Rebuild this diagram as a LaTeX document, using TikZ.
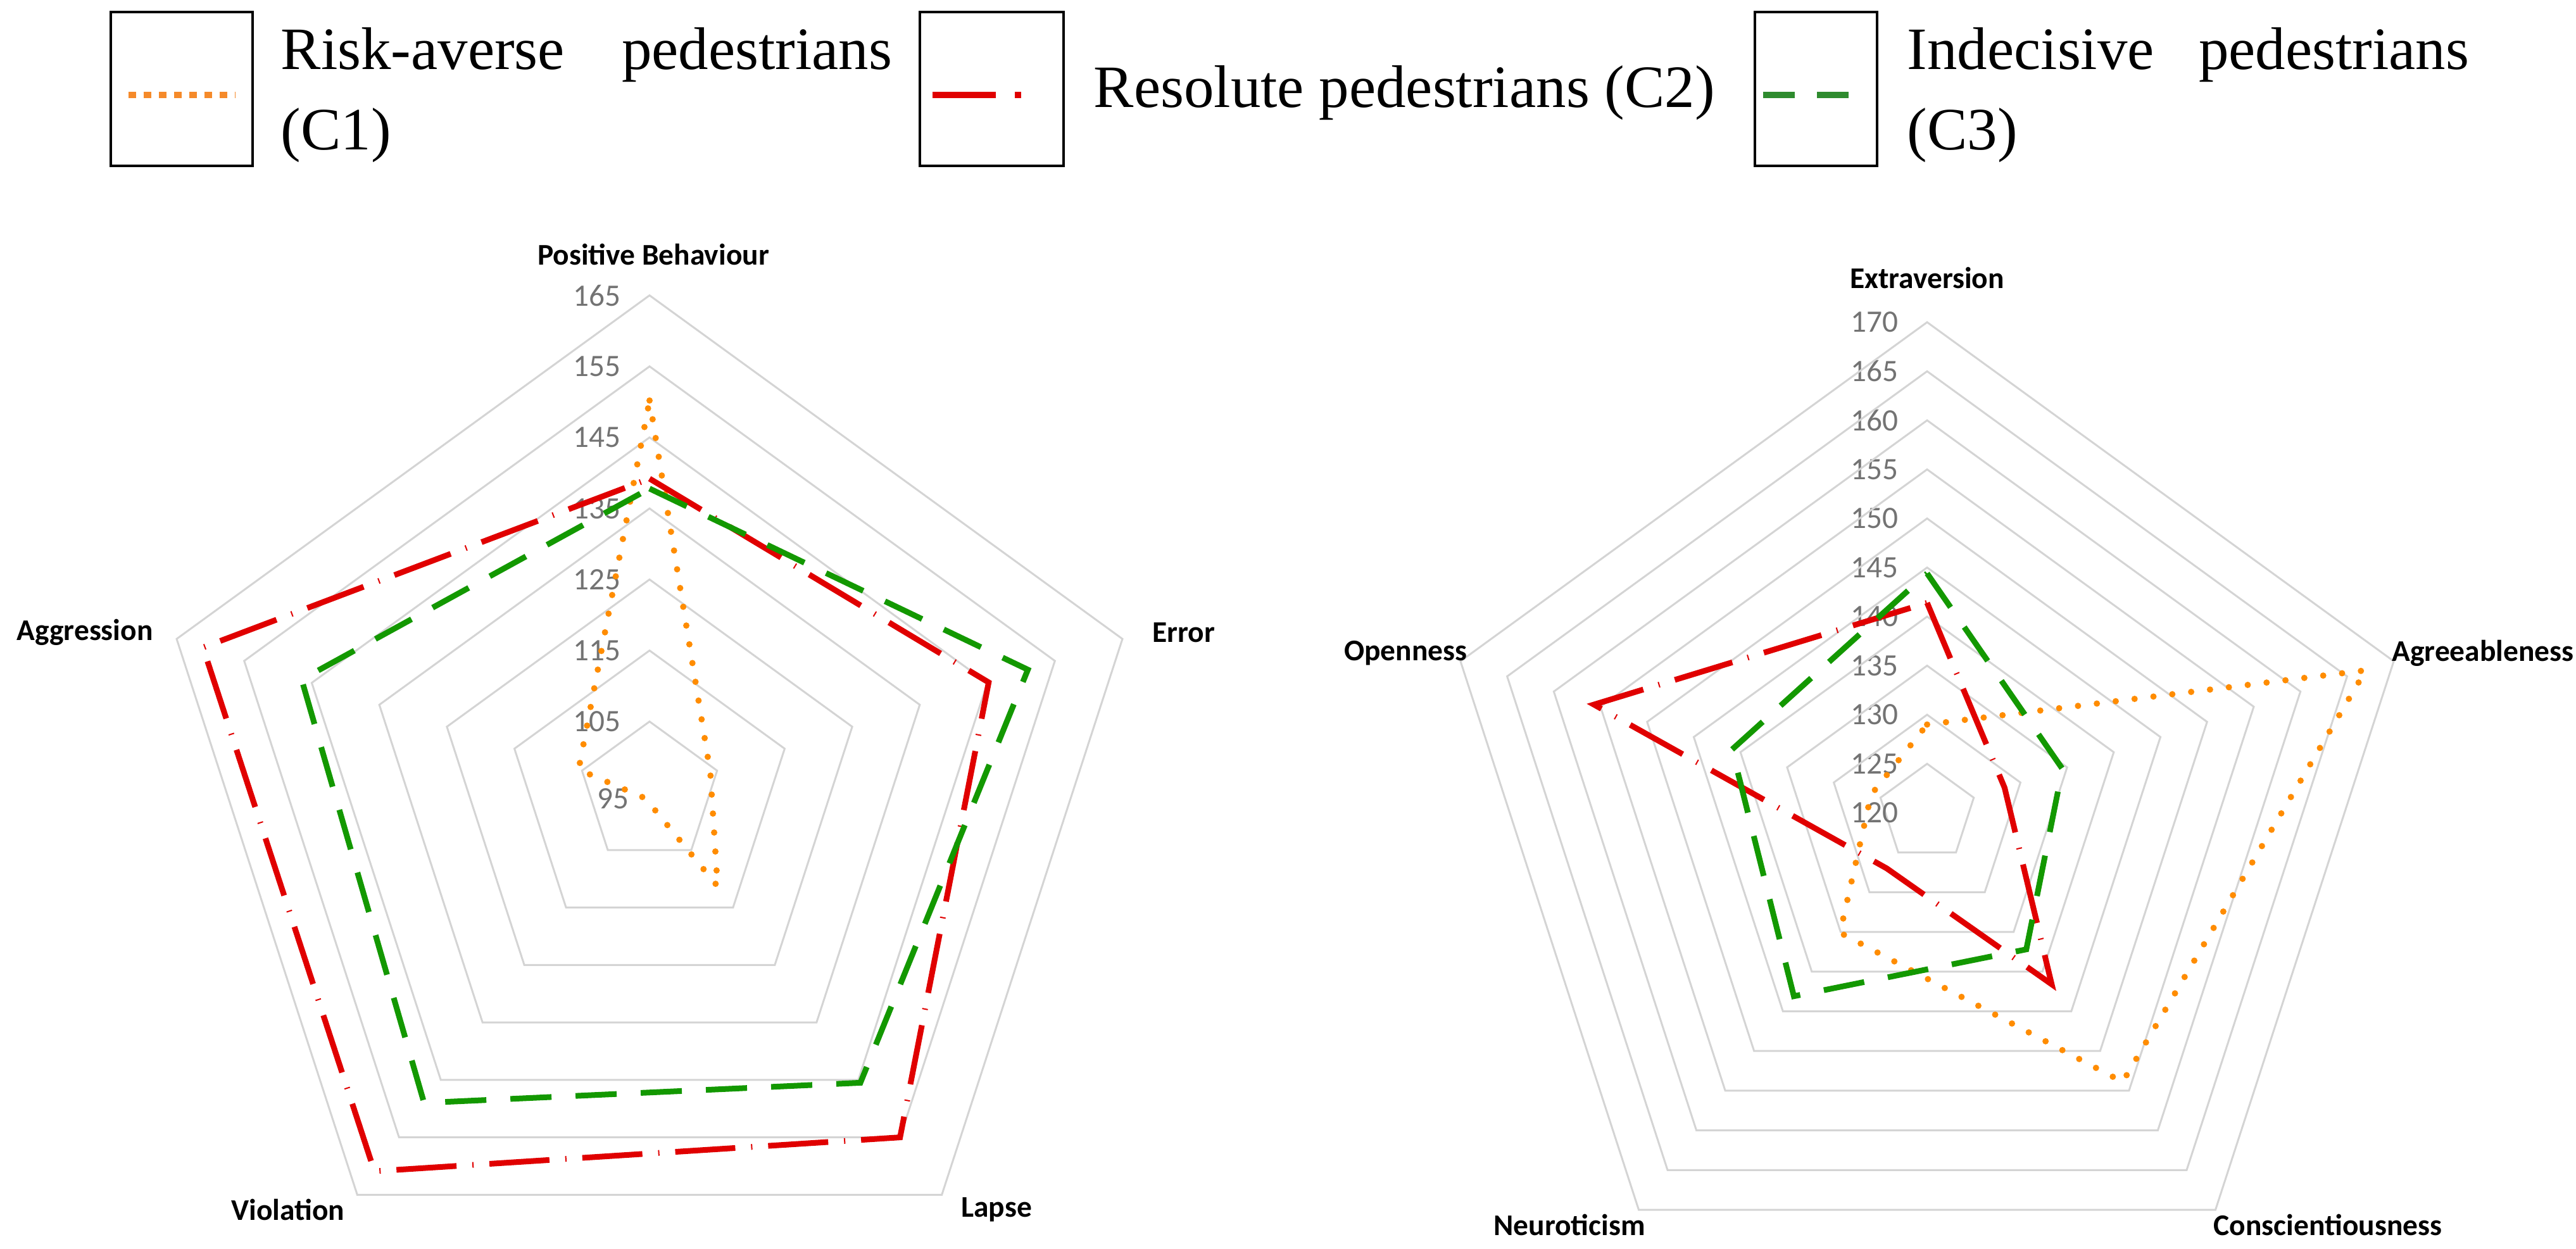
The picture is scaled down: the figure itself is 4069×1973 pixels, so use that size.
\documentclass[tikz,border=0pt]{standalone}
\usepackage{fontspec}
\setmainfont{Liberation Serif}
\newfontfamily\carl{Carlito}
\begin{document}
\begin{tikzpicture}[x=0.01cm,y=0.01cm,
  ring/.style={draw=black!17,line width=0.03cm},
  axl/.style={font=\carl\bfseries\fontsize{13.5}{14}\selectfont},
  tick/.style={font=\carl\fontsize{14}{15}\selectfont,text=black!55,anchor=east,inner sep=0},
  lbox/.style={draw=black,line width=0.045cm},
  ltext/.style={font=\fontsize{27}{36}\selectfont,anchor=west,align=left,inner sep=0},
  sC1/.style={draw=orange!90!yellow,line width=0.1cm,line cap=round,dash pattern=on 0pt off 0.3cm,line join=round},
  sC2/.style={draw=red!88!black,line width=0.09cm,dash pattern=on 0.95cm off 0.25cm on 0.02cm off 0.25cm,line join=miter},
  sC3/.style={draw=green!55!black!90!lime,line width=0.09cm,dash pattern=on 0.65cm off 0.38cm,line join=miter},
  ]
\definecolor{lorange}{HTML}{F58A2A}
\definecolor{lred}{HTML}{E00000}
\definecolor{lgreen}{HTML}{2E8B2E}
\useasboundingbox (0,0) rectangle (4069,-1973);
% legend
\draw[lbox] (175,-19) rectangle (399,-262);
\draw[lorange,line width=0.1cm,dash pattern=on 0.12cm off 0.12cm] (203,-150) -- (372,-150);
\node[ltext,text width=9.65cm] (t1) at (443,-150) {Risk-averse\hfill pedestrians\\(C1)};
\draw[lbox] (1453,-19) rectangle (1680,-262);
\draw[lred,line width=0.1cm,dash pattern=on 1.0cm off 0.3cm on 0.1cm off 0.3cm] (1473,-150) -- (1625,-150);
\node[ltext] (t2) at (1727,-147) {Resolute pedestrians (C2)};
\draw[lbox] (2772,-19) rectangle (2965,-262);
\draw[lgreen,line width=0.1cm,dash pattern=on 0.5cm off 0.35cm] (2785,-150) -- (2935,-150);
\node[ltext,text width=8.87cm] (t3) at (3012,-150) {Indecisive\hfill pedestrians\\(C3)};
% left chart
\begin{scope}[shift={(1026,-1252)}]
  \foreach \v in {105,115,...,165}{
    \draw[ring] (90:{(\v-95)*11.22}) -- (18:{(\v-95)*11.22}) -- (-54:{(\v-95)*11.22}) -- (-126:{(\v-95)*11.22}) -- (162:{(\v-95)*11.22}) -- cycle;
    \node[tick] at ({-45},{(\v-95)*11.22}) {\v};
  }
  \node[tick] at (-32,-10) {95};
  \node[axl] (pb) at (6,850) {Positive Behaviour};
  \node[axl,anchor=east] (ag) at (-772,253) {Aggression};
  \node[axl,anchor=west] (er) at (782,253) {Error};
  \node[axl] (vi) at (-571,-659) {Violation};
  \node[axl] (la) at (548,-659) {Lapse};
  \draw[sC1] (90:{(150.2-95)*11.22}) -- (18:{(104-95)*11.22}) -- (-54:{(111.3-95)*11.22}) -- (-126:{(96-95)*11.22}) -- (162:{(105.5-95)*11.22}) -- cycle;
  \draw[sC2] (90:{(139.2-95)*11.22}) -- (18:{(145.2-95)*11.22}) -- (-54:{(155-95)*11.22}) -- (-126:{(160.9-95)*11.22}) -- (162:{(161.1-95)*11.22}) -- cycle;
  \draw[sC3] (90:{(137.8-95)*11.22}) -- (18:{(151-95)*11.22}) -- (-54:{(145.5-95)*11.22}) -- (-126:{(149-95)*11.22}) -- (162:{(146.5-95)*11.22}) -- cycle;
\end{scope}
% right chart
\begin{scope}[shift={(3044,-1284)}]
  \foreach \v in {125,130,...,170}{
    \draw[ring] (90:{(\v-120)*15.5}) -- (18:{(\v-120)*15.5}) -- (-54:{(\v-120)*15.5}) -- (-126:{(\v-120)*15.5}) -- (162:{(\v-120)*15.5}) -- cycle;
    \node[tick] at ({-45},{(\v-120)*15.5}) {\v};
  }
  \node[tick] at (-45,0) {120};
  \node[axl] (ex) at (0,845) {Extraversion};
  \node[axl,anchor=east] (op) at (-714,252) {Openness};
  \node[axl,anchor=west] (agr) at (722,252) {Agreeableness};
  \node[axl] (ne) at (-565,-651) {Neuroticism};
  \node[axl] (co) at (633,-651) {Conscientiousness};
  \draw[sC1] (90:{(129-120)*15.5}) -- (18:{(167-120)*15.5}) -- (-54:{(153.9-120)*15.5}) -- (-126:{(135.1-120)*15.5}) -- (162:{(126-120)*15.5}) -- cycle;
  \draw[sC2] (90:{(141.4-120)*15.5}) -- (18:{(128.3-120)*15.5}) -- (-54:{(141.6-120)*15.5}) -- (-126:{(127-120)*15.5}) -- (162:{(155.7-120)*15.5}) -- cycle;
  \draw[sC3] (90:{(144.4-120)*15.5}) -- (18:{(134.5-120)*15.5}) -- (-54:{(137.2-120)*15.5}) -- (-126:{(143.1-120)*15.5}) -- (162:{(140.9-120)*15.5}) -- cycle;
\end{scope}
\end{tikzpicture}
\end{document}
